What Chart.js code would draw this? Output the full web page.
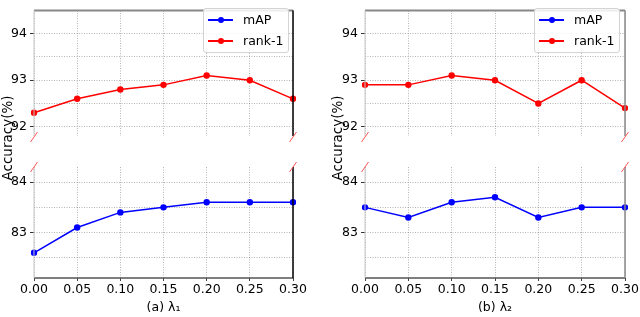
<!DOCTYPE html>
<html>
<head>
<meta charset="utf-8">
<script src="https://cdn.jsdelivr.net/npm/chart.js@4.4.0/dist/chart.umd.min.js"></script>
<style>
html,body{margin:0;padding:0;background:#fff;}
#wrap{position:relative;width:640px;height:317px;overflow:hidden;font-family:"DejaVu Sans",sans-serif;}
canvas{position:absolute;left:0;top:0;}
.legend{position:absolute;border:1px solid #d4d4d4;border-radius:3px;background:rgba(255,255,255,0.85);box-sizing:border-box;}
.legend .ln{position:absolute;height:2px;width:25px;left:4px;}
.legend .dt{position:absolute;width:6px;height:6px;border-radius:50%;left:13.5px;}
.legend .tx{position:absolute;left:39px;font-size:12.5px;line-height:14px;color:#000;white-space:nowrap;}
</style>
</head>
<body>
<div id="wrap">
  <canvas id="c1" width="640" height="317"></canvas>
  <canvas id="c2" width="640" height="317"></canvas>
  <canvas id="c3" width="640" height="317"></canvas>
  <canvas id="c4" width="640" height="317"></canvas>
</div>
<script>
// ---- data ----
const lambdaTicks = ['0.00', '0.05', '0.10', '0.15', '0.20', '0.25', '0.30'];
const rank1Lambda1 = [92.3, 92.6, 92.8, 92.9, 93.1, 93.0, 92.6];
const mapLambda1   = [82.6, 83.1, 83.4, 83.5, 83.6, 83.6, 83.6];
const rank1Lambda2 = [92.9, 92.9, 93.1, 93.0, 92.5, 93.0, 92.4];
const mapLambda2   = [83.5, 83.3, 83.6, 83.7, 83.3, 83.5, 83.5];
const upperRange = [91.8, 94.5];
const lowerRange = [82.1, 84.3];
const upperGridValues = [92, 92.5, 93, 93.5, 94];
const upperTickLabels = [92, 93, 94];
const lowerGridValues = [82.5, 83, 83.5, 84];
const lowerTickLabels = [83, 84];
const seriesNames = ['mAP', 'rank-1'];
const seriesColors = ['#0000ff', '#ff0000'];
const xTitles = ['(a) λ₁', '(b) λ₂'];
const yTitle = 'Accuracy(%)';

Chart.defaults.font.family = '"DejaVu Sans", sans-serif';
Chart.defaults.font.size = 12.5;
Chart.defaults.color = '#000';

const FONT = {family: '"DejaVu Sans", sans-serif', size: 12.5};
const GRID = 'rgba(120,120,120,0.55)';

const spinePlugin = {
  id: 'spines',
  afterDraw(chart, args, o) {
    const {ctx, chartArea: a} = chart;
    ctx.save();
    const line = (x1, y1, x2, y2, s) => {
      if (!s) return;
      ctx.beginPath();
      ctx.strokeStyle = s.color; ctx.lineWidth = s.width;
      ctx.moveTo(x1, y1); ctx.lineTo(x2, y2); ctx.stroke();
    };
    line(a.left, a.top, a.right, a.top, o.top);
    line(a.left, a.bottom, a.right, a.bottom, o.bottom);
    line(a.left, a.top, a.left, a.bottom, o.left);
    line(a.right, a.top, a.right, a.bottom, o.right);
    if (o.breakAt) {
      const y = o.breakAt === 'bottom' ? a.bottom + 1 : a.top;
      ctx.strokeStyle = '#ff5555'; ctx.lineWidth = 1;
      [a.left, a.right].forEach(x => {
        ctx.beginPath(); ctx.moveTo(x - 3.5, y + 5); ctx.lineTo(x + 3.5, y - 5); ctx.stroke();
      });
    }
    if (o.yTitle) {
      ctx.translate(o.yTitle.x, o.yTitle.y);
      ctx.rotate(-Math.PI / 2);
      ctx.font = '13.5px "DejaVu Sans", sans-serif';
      ctx.fillStyle = '#000';
      ctx.textAlign = 'center';
      ctx.textBaseline = 'middle';
      ctx.fillText(o.yTitle.text, 0, 0);
    }
    ctx.restore();
  }
};

function buildChart(id, c) {
  const labelsHas = v => c.labels.some(l => Math.abs(l - v) < 1e-6);
  new Chart(document.getElementById(id), {
    type: 'line',
    data: {
      labels: lambdaTicks,
      datasets: [{
        label: c.name, data: c.series,
        borderColor: c.color, backgroundColor: c.color,
        borderWidth: 1.5, pointRadius: 3.2, pointHoverRadius: 3.2,
        pointBorderWidth: 0, tension: 0, fill: false
      }]
    },
    options: {
      responsive: false, animation: false, events: [],
      layout: {padding: {left: c.padLeft, right: c.padRight, top: c.top, bottom: c.showX ? 0 : 317 - c.bottom}},
      plugins: {legend: {display: false}, tooltip: {enabled: false}, spines: c.spines},
      scales: {
        x: {
          type: 'category', offset: false,
          grid: {color: GRID, lineWidth: 1, drawTicks: c.showX, tickLength: 3, tickColor: '#444', tickBorderDash: []},
          border: {display: false, dash: [1, 1.5]},
          ticks: {display: c.showX, font: FONT, color: '#000', padding: 1, maxRotation: 0, autoSkip: false},
          title: {display: c.showX, text: c.xTitle, font: FONT, color: '#000', padding: {top: 0, bottom: 2}},
          afterFit: s => { s.height = c.showX ? 317 - c.bottom : 0; s.paddingLeft = 0; s.paddingRight = 0; }
        },
        y: {
          min: c.range[0], max: c.range[1],
          afterBuildTicks: s => { s.ticks = c.grid.map(v => ({value: v})); },
          grid: {color: GRID, lineWidth: 1, drawTicks: true, tickLength: 4, tickBorderDash: [],
                 tickColor: ctx => labelsHas(ctx.tick.value) ? '#333' : 'rgba(0,0,0,0)'},
          border: {display: false, dash: [1, 1.5]},
          ticks: {font: FONT, color: '#000', padding: 3, autoSkip: false,
                  callback: v => labelsHas(v) ? String(Math.round(v)) : ''},
          afterFit: s => { s.width = 34; }
        }
      }
    },
    plugins: [spinePlugin]
  });
}

const panels = [
  {left: 34, right: 293, rank: rank1Lambda1, map: mapLambda1, xTitle: xTitles[0],
   lcol: '#c8c8c8', rcol: '#000', legendLeft: 203, ylabX: 8},
  {left: 365, right: 625, rank: rank1Lambda2, map: mapLambda2, xTitle: xTitles[1],
   lcol: '#c8c8c8', rcol: '#888', legendLeft: 534, ylabX: 338.5}
];
const ids = [['c1', 'c2'], ['c3', 'c4']];
panels.forEach((p, i) => {
  const padLeft = p.left - 34, padRight = 640 - p.right;
  buildChart(ids[i][0], {
    padLeft, padRight, top: 2, bottom: 136, range: upperRange, grid: upperGridValues, labels: upperTickLabels,
    series: p.rank, color: seriesColors[1], name: seriesNames[1], showX: false,
    spines: {top: {color: '#888', width: 2}, left: {color: p.lcol, width: 1}, right: {color: p.rcol, width: 1.5}, breakAt: 'bottom'}
  });
  buildChart(ids[i][1], {
    padLeft, padRight, top: 167, bottom: 278, range: lowerRange, grid: lowerGridValues, labels: lowerTickLabels,
    series: p.map, color: seriesColors[0], name: seriesNames[0], showX: true, xTitle: p.xTitle,
    spines: {bottom: {color: '#555', width: 1.5}, left: {color: p.lcol, width: 1}, right: {color: p.rcol, width: 1.5}, breakAt: 'top',
             yTitle: {text: yTitle, x: p.ylabX, y: 138}}
  });
  // legend
  const lg = document.createElement('div');
  lg.className = 'legend';
  lg.style.left = p.legendLeft + 'px'; lg.style.top = '8px';
  lg.style.width = '86px'; lg.style.height = '45px';
  seriesNames.forEach((n, k) => {
    const cy = k === 0 ? 11 : 32;
    const ln = document.createElement('div'); ln.className = 'ln';
    ln.style.background = seriesColors[k]; ln.style.top = (cy - 1) + 'px';
    const dt = document.createElement('div'); dt.className = 'dt';
    dt.style.background = seriesColors[k]; dt.style.top = (cy - 3) + 'px';
    const tx = document.createElement('div'); tx.className = 'tx';
    tx.textContent = n; tx.style.top = (cy - 7) + 'px';
    lg.appendChild(ln); lg.appendChild(dt); lg.appendChild(tx);
  });
  document.getElementById('wrap').appendChild(lg);
});
</script>
</body>
</html>
